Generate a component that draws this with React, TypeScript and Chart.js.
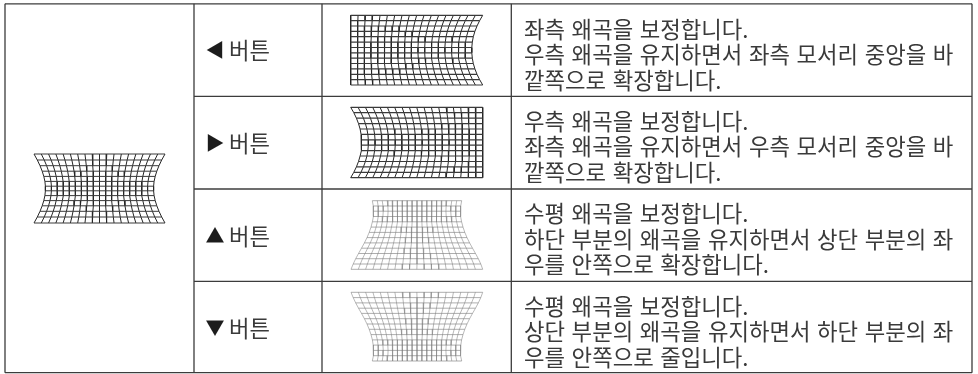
import React, { useEffect, useRef } from "react";
import { Chart, registerables } from "chart.js";

Chart.register(...registerables);

const descriptionLines = [
  ["좌측 왜곡을 보정합니다.", "우측 왜곡을 유지하면서 좌측 모서리 중앙을 바", "깥쪽으로 확장합니다."],
  ["우측 왜곡을 보정합니다.", "좌측 왜곡을 유지하면서 우측 모서리 중앙을 바", "깥쪽으로 확장합니다."],
  ["수평 왜곡을 보정합니다.", "하단 부분의 왜곡을 유지하면서 상단 부분의 좌", "우를 안쪽으로 확장합니다."],
  ["수평 왜곡을 보정합니다.", "상단 부분의 왜곡을 유지하면서 하단 부분의 좌", "우를 안쪽으로 줄입니다."],
];
const buttonArrows = ["◀", "▶", "▲", "▼"];
const buttonWord = "버튼";

const columnRules = [5, 194, 322, 511.3, 972];
const rowRules = [3.8, 96.3, 189, 281.3, 372.7];
const descCenterY = [29.5, 55, 80.5, 121.5, 147, 172.5, 214, 239.5, 265, 306.5, 332, 357.5];
const buttonCenterY = [51, 144, 237, 329];

// Main picture: pincushion on both sides
const mainY = [154, 160, 165.7, 171.2, 176.4, 181.4, 186.2, 190.8, 195.6, 200.6, 205.8, 211.3, 217, 223];
const mainLeft = [34, 37.3, 40, 42.2, 43.8, 44.9, 45.4, 45.4, 44.9, 43.8, 42.2, 40, 37.3, 34];
const mainRight = [165, 161.7, 159, 156.8, 155.2, 154.1, 153.6, 153.6, 154.1, 155.2, 156.8, 159, 161.7, 165];

// ◀ picture
const leftY = [15.3, 20.7, 26, 31.4, 36.7, 42.1, 47.5, 52.8, 58.2, 63.5, 68.9, 74.3, 79.6, 85];
const leftLeft = [350.7, 350.7, 350.7, 350.7, 350.7, 350.7, 350.7, 350.7, 350.7, 350.7, 350.7, 350.7, 350.7, 350.7];
const leftRight = [482.7, 479.6, 477, 474.9, 473.3, 472.3, 471.8, 471.8, 472.3, 473.3, 474.9, 477, 479.6, 482.7];

// ▶ picture
const rightY = [107.3, 112.7, 118.1, 123.6, 129, 134.4, 139.8, 145.2, 150.6, 156, 161.5, 166.9, 172.3, 177.7];
const rightLeft = [350.7, 353.8, 356.4, 358.5, 360.1, 361.1, 361.6, 361.6, 361.1, 360.1, 358.5, 356.4, 353.8, 350.7];
const rightRight = [482.7, 482.7, 482.7, 482.7, 482.7, 482.7, 482.7, 482.7, 482.7, 482.7, 482.7, 482.7, 482.7, 482.7];

// ▲ picture
const upY = [200.7, 206, 211.2, 216.5, 221.8, 227.1, 232.4, 237.6, 242.9, 248.2, 253.5, 258.7, 264, 269.3];
const upLeft = [372.3, 373.3, 373.6, 373.2, 372.4, 371, 369.2, 367, 364.4, 361.5, 358.5, 355.7, 353.2, 351];
const upRight = [461.7, 460.7, 460.4, 460.8, 461.6, 463, 464.8, 467, 469.6, 472.5, 475.5, 478.3, 480.8, 482.7];

// ▼ picture
const downY = [292.3, 297.6, 302.9, 308.2, 313.4, 318.7, 324, 329.3, 334.6, 339.9, 345.1, 350.4, 355.7, 361];
const downLeft = [351, 353.2, 355.7, 358.5, 361.5, 364.4, 367, 369.2, 371, 372.4, 373.2, 373.6, 373.3, 372.3];
const downRight = [482.7, 480.8, 478.3, 475.5, 472.5, 469.6, 467, 464.8, 463, 461.6, 460.8, 460.4, 460.7, 461.7];

const CELLS_ACROSS = 18;

type Pt = { x: number; y: number };

function meshDatasets(ys: number[], lefts: number[], rights: number[], vColor: string, hColor: string, vWidth: number, hWidth: number) {
  const sets: any[] = [];
  ys.forEach((y, j) => {
    const data: Pt[] = [{ x: lefts[j], y }, { x: rights[j], y }];
    sets.push({ data, borderColor: hColor, borderWidth: hWidth, showLine: true, pointRadius: 0, tension: 0, clip: false });
  });
  for (let k = 0; k <= CELLS_ACROSS; k++) {
    const data: Pt[] = ys.map((y, j) => ({ x: lefts[j] + ((rights[j] - lefts[j]) * k) / CELLS_ACROSS, y }));
    sets.push({ data, borderColor: vColor, borderWidth: vWidth, showLine: true, pointRadius: 0, tension: 0, clip: false });
  }
  return sets;
}

function ruleDatasets() {
  const color = "#3c3c3c";
  const seg = (a: Pt, b: Pt, w = 1.3) => ({ data: [a, b], borderColor: color, borderWidth: w, showLine: true, pointRadius: 0, clip: false });
  const top = rowRules[0];
  const bottom = rowRules[rowRules.length - 1];
  const sets: any[] = [];
  columnRules.forEach((x) => sets.push(seg({ x, y: top }, { x, y: bottom })));
  sets.push(seg({ x: columnRules[0], y: top }, { x: columnRules[4], y: top }));
  sets.push(seg({ x: columnRules[0], y: bottom }, { x: columnRules[4], y: bottom }));
  rowRules.slice(1, -1).forEach((y) => sets.push(seg({ x: columnRules[1], y }, { x: columnRules[4], y })));
  return sets;
}

const textPlugin = {
  id: "tableText",
  afterDatasetsDraw(chart: any) {
    const { ctx, scales } = chart;
    const X = (v: number) => scales.x.getPixelForValue(v);
    const Y = (v: number) => scales.y.getPixelForValue(v);
    ctx.save();
    ctx.fillStyle = "#3a3a3a";
    ctx.textBaseline = "middle";
    ctx.textAlign = "left";
    ctx.font = '400 22.3px "Noto Sans CJK KR"';
    (ctx as any).wordSpacing = "1.6px";
    descriptionLines.flat().forEach((line, i) => ctx.fillText(line, X(524), Y(descCenterY[i])));
    (ctx as any).wordSpacing = "0px";
    buttonCenterY.forEach((y) => ctx.fillText(buttonWord, X(229), Y(y)));
    ctx.font = '400 19px "Noto Sans CJK KR"';
    ctx.fillStyle = "#1c1c1c";
    buttonArrows.forEach((a, i) => ctx.fillText(a, X(205.5), Y(buttonCenterY[i] - 1)));
    ctx.restore();
  },
};

export default function App() {
  const ref = useRef<HTMLCanvasElement>(null);
  useEffect(() => {
    const dark = "#262626";
    const chart = new Chart(ref.current!, {
      type: "scatter",
      data: {
        datasets: [
          ...ruleDatasets(),
          ...meshDatasets(mainY, mainLeft, mainRight, dark, "#3a3a3a", 1, 1),
          ...meshDatasets(leftY, leftLeft, leftRight, dark, "#3a3a3a", 1, 1.2),
          ...meshDatasets(rightY, rightLeft, rightRight, dark, "#3a3a3a", 1, 1.2),
          ...meshDatasets(upY, upLeft, upRight, "#8a8a8a", "#777", 0.6, 0.6),
          ...meshDatasets(downY, downLeft, downRight, "#8a8a8a", "#777", 0.6, 0.6),
        ],
      },
      options: {
        animation: false,
        responsive: false,
        maintainAspectRatio: false,
        layout: { padding: 0 },
        plugins: { legend: { display: false }, tooltip: { enabled: false } },
        scales: {
          x: { type: "linear", min: 0, max: 978, display: false },
          y: { type: "linear", min: 0, max: 374, reverse: true, display: false },
        },
      },
      plugins: [textPlugin],
    });
    return () => chart.destroy();
  }, []);
  return (
    <div style={{ position: "fixed", left: 0, top: 0, width: 978, height: 374, background: "#fff" }}>
      <canvas ref={ref} width={978} height={374} style={{ display: "block" }} />
    </div>
  );
}
